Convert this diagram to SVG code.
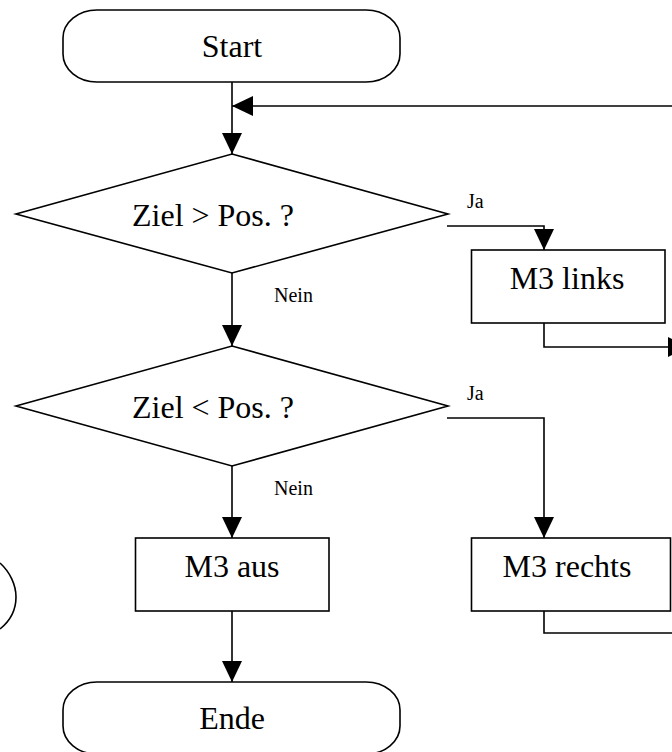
<svg xmlns="http://www.w3.org/2000/svg" width="672" height="752" viewBox="0 0 672 752">
<style>
.s{fill:#fff;stroke:#000;stroke-width:1.6}
.c{fill:none;stroke:#000;stroke-width:1.6}
.t{font-family:"Liberation Serif","Times New Roman",serif;font-size:32px;fill:#000;text-anchor:middle}
.l{font-family:"Liberation Serif","Times New Roman",serif;font-size:20px;fill:#000}
</style>
<defs>
<marker id="arrow" markerUnits="userSpaceOnUse" markerWidth="21" markerHeight="20" refX="21" refY="10" orient="auto">
<path d="M0,0 L21,10 L0,20 Z" fill="#000"/>
</marker>
</defs>
<rect width="672" height="752" fill="#fff"/>
<g id="connectors">
<path class="c" d="M232,82 V154" marker-end="url(#arrow)"/>
<path class="c" d="M672,106 H232" marker-end="url(#arrow)"/>
<path class="c" d="M232,273 V346" marker-end="url(#arrow)"/>
<path class="c" d="M232,466 V538" marker-end="url(#arrow)"/>
<path class="c" d="M232,611 V682" marker-end="url(#arrow)"/>
<path class="c" d="M447,226 H544 V250" marker-end="url(#arrow)"/>
<path class="c" d="M447,418 H544 V538" marker-end="url(#arrow)"/>
<path class="c" d="M544,323 V347 H689" marker-end="url(#arrow)"/>
<path class="c" d="M544,611 V633 H672"/>
</g>
<g id="start">
<rect class="s" x="63" y="10" width="337" height="72" rx="34" ry="28"/>
<text class="t" x="232" y="57">Start</text>
</g>
<g id="decision1">
<polygon class="s" points="232,154 448,214 232,273 16,214"/>
<text class="t" x="213" y="226">Ziel &gt; Pos. ?</text>
</g>
<g id="decision2">
<polygon class="s" points="232,346 448,406 232,466 16,406"/>
<text class="t" x="213" y="418">Ziel &lt; Pos. ?</text>
</g>
<g id="m3links">
<rect class="s" x="471.5" y="250" width="193.5" height="73"/>
<text class="t" x="567" y="289">M3 links</text>
</g>
<g id="m3rechts">
<rect class="s" x="471.5" y="538" width="199" height="73"/>
<text class="t" x="567" y="577">M3 rechts</text>
</g>
<g id="m3aus">
<rect class="s" x="135.5" y="538" width="193.5" height="73"/>
<text class="t" x="232" y="577">M3 aus</text>
</g>
<g id="ende">
<rect class="s" x="63" y="682" width="337" height="72" rx="34" ry="28"/>
<text class="t" x="232" y="729">Ende</text>
</g>
<g id="partial">
<path class="c" d="M0,563 C10,572 16,585 16,597 C16,610 10,621 0,629"/>
</g>
<g id="labels">
<text class="l" x="467" y="208">Ja</text>
<text class="l" x="467" y="400">Ja</text>
<text class="l" x="274" y="302">Nein</text>
<text class="l" x="274" y="495">Nein</text>
</g>
</svg>
